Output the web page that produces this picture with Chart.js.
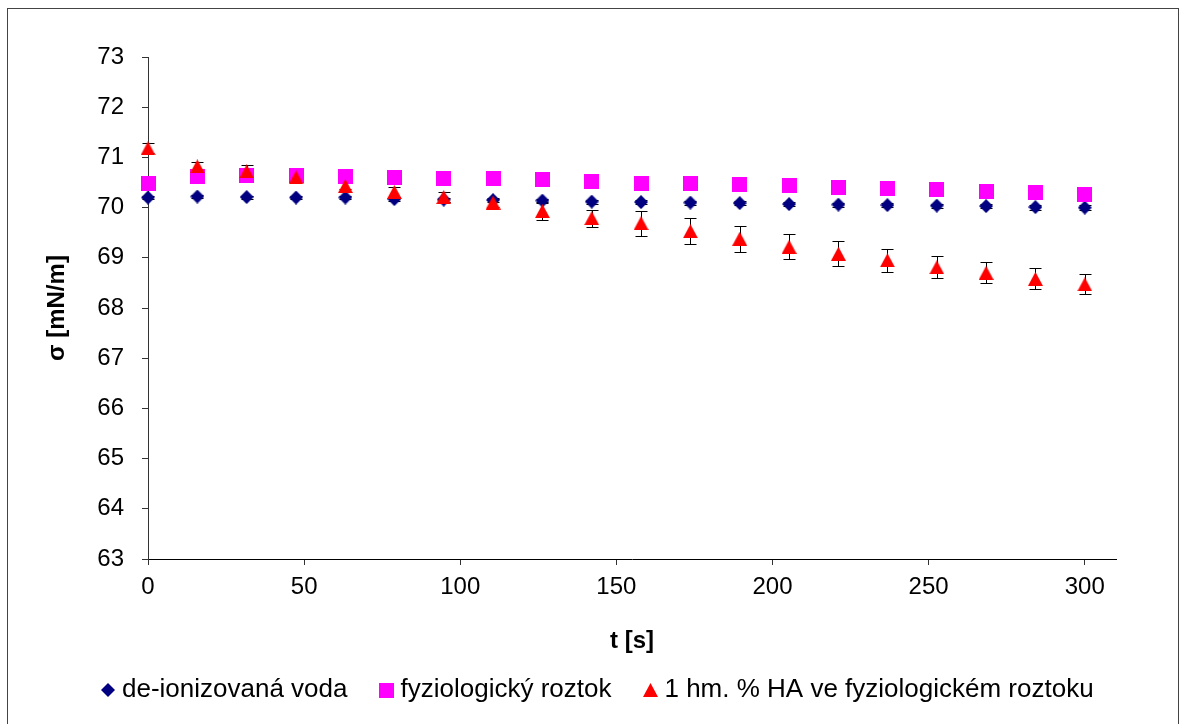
<!DOCTYPE html>
<html lang="cs">
<head>
<meta charset="UTF-8">
<title>Povrchové napětí</title>
<script src="https://cdn.jsdelivr.net/npm/chart.js"></script>
<style>
  html, body { margin: 0; padding: 0; background: #fff; overflow: hidden; }
  #obal { position: relative; width: 1181px; height: 724px; }
  #ramecek { position: absolute; left: 7px; top: 8px; width: 1170px; height: 740px; border: 1px solid #444; pointer-events: none; }
</style>
</head>
<body>
<div id="obal">
  <canvas id="graf" width="1181" height="724"></canvas>
  <div id="ramecek"></div>
</div>
<script>
// čas měření [s]
const casy = [0, 15.8, 31.6, 47.4, 63.2, 78.9, 94.7, 110.5, 126.3, 142.1,
              157.9, 173.7, 189.5, 205.3, 221.1, 236.8, 252.6, 268.4, 284.2, 300];

// povrchové napětí [mN/m]
const voda = [70.20, 70.22, 70.21, 70.20, 70.20, 70.17, 70.16, 70.15, 70.14, 70.12,
              70.11, 70.10, 70.09, 70.07, 70.06, 70.05, 70.04, 70.03, 70.01, 70.00];
const vodaChyby = [0.03, 0.03, 0.03, 0.03, 0.03, 0.04, 0.04, 0.04, 0.04, 0.04,
                   0.04, 0.04, 0.04, 0.04, 0.04, 0.04, 0.04, 0.04, 0.05, 0.05];

const fyzRoztok = [70.49, 70.62, 70.64, 70.63, 70.61, 70.59, 70.58, 70.57, 70.56, 70.52,
                   70.49, 70.49, 70.46, 70.44, 70.41, 70.39, 70.36, 70.32, 70.30, 70.26];

const haRoztok = [71.18, 70.82, 70.72, 70.60, 70.43, 70.31, 70.21, 70.10, 69.93, 69.79,
                  69.69, 69.53, 69.38, 69.22, 69.08, 68.95, 68.81, 68.70, 68.58, 68.47];
const haChyby = [0.10, 0.09, 0.12, 0.05, 0.06, 0.10, 0.10, 0.08, 0.18, 0.17,
                 0.25, 0.26, 0.26, 0.25, 0.25, 0.23, 0.22, 0.21, 0.21, 0.20];

const nazvy = ['de-ionizovaná voda', 'fyziologický roztok', '1 hm. % HA ve fyziologickém roztoku'];

const pismo = '"Liberation Sans", Arial, sans-serif';

// značky bodů kreslené do malého plátna
function znacka(tvar, w, h, barva) {
  const c = document.createElement('canvas');
  c.width = w;
  c.height = h;
  const g = c.getContext('2d');
  g.fillStyle = barva;
  g.beginPath();
  if (tvar === 'kosoctverec') {
    g.moveTo(w / 2, 0); g.lineTo(w, h / 2); g.lineTo(w / 2, h); g.lineTo(0, h / 2);
  } else if (tvar === 'trojuhelnik') {
    g.moveTo(w / 2, 0); g.lineTo(w, h); g.lineTo(0, h);
  } else {
    g.rect(0, 0, w, h);
  }
  g.closePath();
  g.fill();
  return c;
}

function body(hodnoty) {
  return casy.map((t, i) => ({x: t, y: hodnoty[i]}));
}

// chybové úsečky pod značkami
const chybovePlugin = {
  id: 'chyby',
  beforeDatasetsDraw(chart) {
    const ctx = chart.ctx;
    const osaY = chart.scales.y;
    ctx.save();
    ctx.strokeStyle = '#000';
    ctx.lineWidth = 1;
    chart.data.datasets.forEach((ds, i) => {
      if (!ds.chyby) return;
      chart.getDatasetMeta(i).data.forEach((bod, j) => {
        const e = ds.chyby[j];
        const y1 = Math.round(osaY.getPixelForValue(ds.data[j].y + e)) + 0.5;
        const y2 = Math.round(osaY.getPixelForValue(ds.data[j].y - e)) + 0.5;
        const x = Math.round(bod.x) + 0.5;
        ctx.beginPath();
        ctx.moveTo(x, y1); ctx.lineTo(x, y2);
        ctx.moveTo(x - 6, y1); ctx.lineTo(x + 6, y1);
        ctx.moveTo(x - 6, y2); ctx.lineTo(x + 6, y2);
        ctx.stroke();
      });
    });
    ctx.restore();
  }
};

new Chart(document.getElementById('graf'), {
  type: 'scatter',
  data: {
    datasets: [
      {
        label: nazvy[0],
        data: body(voda),
        chyby: vodaChyby,
        pointStyle: znacka('kosoctverec', 14, 14, '#000080'),
        backgroundColor: '#000080',
        borderColor: '#000080',
        pointRadius: 7,
        clip: false,
        order: 3
      },
      {
        label: nazvy[1],
        data: body(fyzRoztok),
        pointStyle: znacka('ctverec', 15, 15, '#ff00ff'),
        backgroundColor: '#ff00ff',
        borderColor: '#ff00ff',
        pointRadius: 7,
        clip: false,
        order: 2
      },
      {
        label: nazvy[2],
        data: body(haRoztok),
        chyby: haChyby,
        pointStyle: znacka('trojuhelnik', 15, 14, '#ff0000'),
        backgroundColor: '#ff0000',
        borderColor: '#ff0000',
        pointRadius: 7,
        clip: false,
        order: 1
      }
    ]
  },
  options: {
    responsive: false,
    animation: false,
    events: [],
    layout: {
      padding: {left: 69, right: 0, top: 57, bottom: 11}
    },
    scales: {
      x: {
        type: 'linear',
        min: 0,
        max: 310,
        afterFit: s => { s.height = 80; },
        ticks: {
          stepSize: 50,
          includeBounds: false,
          padding: 8,
          color: '#000',
          font: {family: pismo, size: 24}
        },
        grid: {drawOnChartArea: false, tickLength: 6, color: '#333'},
        border: {color: '#000', width: 1},
        title: {
          display: true,
          text: 't [s]',
          color: '#000',
          font: {family: pismo, size: 24, weight: 'bold'},
          padding: {top: 0, bottom: -17}
        }
      },
      y: {
        min: 63,
        max: 73,
        afterFit: s => { s.width = 79; },
        ticks: {
          stepSize: 1,
          padding: 18,
          color: '#000',
          font: {family: pismo, size: 24}
        },
        grid: {drawOnChartArea: false, tickLength: 6, color: '#333'},
        border: {color: '#333', width: 1},
        title: {
          display: true,
          text: 'σ [mN/m]',
          color: '#000',
          font: {family: pismo, size: 24, weight: 'bold'},
          padding: {top: -26, bottom: 0}
        }
      },
      // prázdný pravý okraj vedle vykreslovací plochy
      okraj: {
        position: 'right',
        grid: {display: false},
        border: {display: false},
        ticks: {display: false},
        afterFit: s => { s.width = 65; }
      }
    },
    plugins: {
      tooltip: {enabled: false},
      legend: {
        position: 'bottom',
        align: 'start',
        labels: {
          usePointStyle: true,
          boxWidth: 2,
          boxHeight: 14,
          padding: 38,
          color: '#000',
          font: {family: pismo, size: 26},
          sort: (a, b) => a.datasetIndex - b.datasetIndex
        }
      }
    }
  },
  plugins: [chybovePlugin]
});
</script>
</body>
</html>
